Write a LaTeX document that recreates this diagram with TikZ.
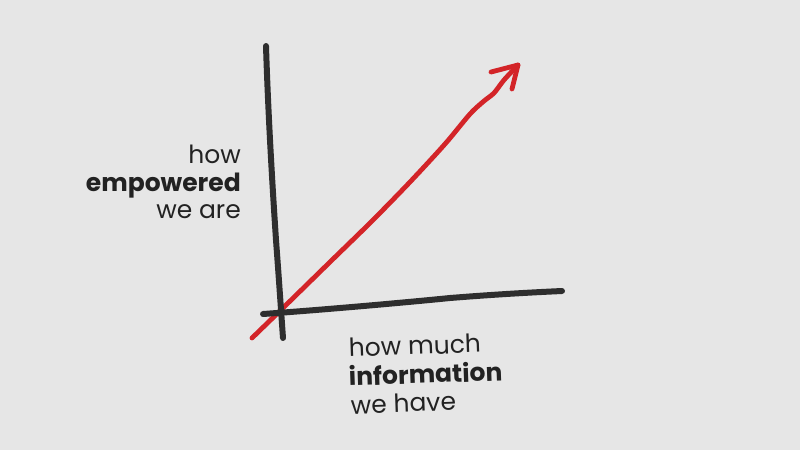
\documentclass[tikz,border=0pt]{standalone}
\usepackage{fontspec}
\setmainfont{Poppins}
\begin{document}
\begin{tikzpicture}[x=1pt,y=-1pt,
  axis/.style={draw=axisblack,line width=6pt,line cap=round,line join=round},
  redline/.style={draw=redink,line width=4.8pt,line cap=round,line join=round},
  lbl/.style={font=\fontsize{25}{28}\selectfont,text=textgray,inner sep=0pt}]
\definecolor{bg}{HTML}{E6E6E6}
\definecolor{axisblack}{HTML}{2E2E2E}
\definecolor{redink}{HTML}{D32428}
\definecolor{textgray}{HTML}{222222}
\fill[bg] (0,0) rectangle (800,450);
\useasboundingbox (0,0) rectangle (800,450);
% red arrow line
\coordinate (rs) at (252,338);
\coordinate (rt) at (518,65);
\draw[redline] plot[smooth,tension=0.5] coordinates {(252,338) (285,306) (330,262) (372,221) (410,182) (445,144) (470,114) (484,101) (494,93) (504,80) (518,65)};
\draw[redline] (491,72) -- (rt) -- (512,89);
% vertical axis
\coordinate (vt) at (266,46);
\coordinate (vb) at (283,338);
\draw[axis] (vt) .. controls (268,110) and (272,180) .. (276,240)
  .. controls (279,280) and (281,310) .. (vb);
% horizontal axis
\coordinate (hl) at (263,314);
\coordinate (hr) at (562,291);
\draw[axis] (hl) .. controls (320,310) and (400,303) .. (450,298)
  .. controls (500,294) and (540,292) .. (hr);
% labels
\node[lbl,anchor=base east] (l1) at (241,163) {how};
\node[lbl,anchor=base east] (l2) at (241,191) {\bfseries empowered};
\node[lbl,anchor=base east] (l3) at (241,218) {we are};
\node[lbl,anchor=base west,rotate=2] (b1) at (349,357) {how much};
\node[lbl,anchor=base west,rotate=2] (b2) at (349,386) {\bfseries information};
\node[lbl,anchor=base west,rotate=2] (b3) at (351,414) {we have};
\end{tikzpicture}
\end{document}
